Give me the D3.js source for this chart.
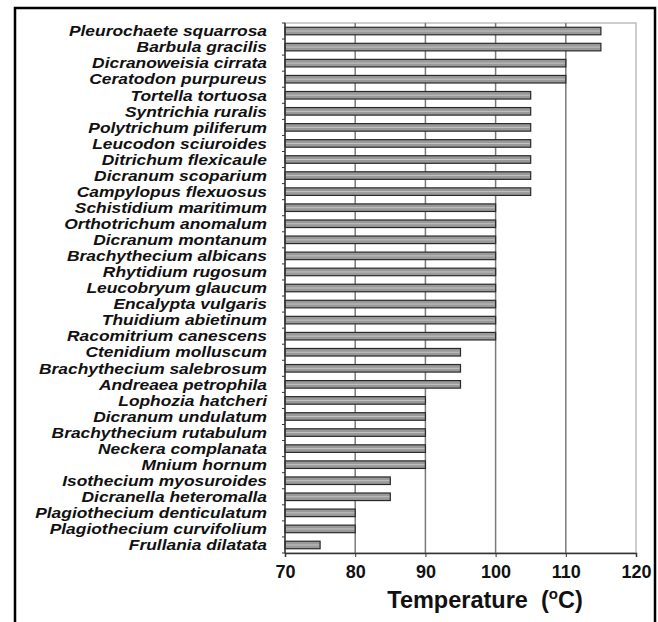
<!DOCTYPE html>
<html>
<head>
<meta charset="utf-8">
<script src="https://cdn.jsdelivr.net/npm/d3@7"></script>
<style>
  body { margin: 0; background: #fff; }
  text { font-family: Arial, "Liberation Sans", sans-serif; }
</style>
</head>
<body>
<script>
// species, top to bottom
var species = [
  "Pleurochaete squarrosa", "Barbula gracilis", "Dicranoweisia cirrata", "Ceratodon purpureus",
  "Tortella tortuosa", "Syntrichia ruralis", "Polytrichum piliferum", "Leucodon sciuroides",
  "Ditrichum flexicaule", "Dicranum scoparium", "Campylopus flexuosus", "Schistidium maritimum",
  "Orthotrichum anomalum", "Dicranum montanum", "Brachythecium albicans", "Rhytidium rugosum",
  "Leucobryum glaucum", "Encalypta vulgaris", "Thuidium abietinum", "Racomitrium canescens",
  "Ctenidium molluscum", "Brachythecium salebrosum", "Andreaea petrophila", "Lophozia hatcheri",
  "Dicranum undulatum", "Brachythecium rutabulum", "Neckera complanata", "Mnium hornum",
  "Isothecium myosuroides", "Dicranella heteromalla", "Plagiothecium denticulatum",
  "Plagiothecium curvifolium", "Frullania dilatata"
];
// temperature (oC)
var temps = [
  115, 115, 110, 110,
  105, 105, 105, 105,
  105, 105, 105, 100,
  100, 100, 100, 100,
  100, 100, 100, 100,
  95, 95, 95, 90,
  90, 90, 90, 90,
  85, 85, 80,
  80, 75
];
var xTicks = [70, 80, 90, 100, 110, 120];

var svgWidth = 658, svgHeight = 622;
var margin = {top: 23, right: 22, bottom: 69, left: 285};
var chartWidth = svgWidth - margin.left - margin.right;
var chartHeight = svgHeight - margin.top - margin.bottom;

var svg = d3.select("body").append("svg")
  .attr("width", svgWidth)
  .attr("height", svgHeight);

// outer frame
svg.append("rect")
  .attr("x", 15).attr("y", 8)
  .attr("width", 640).attr("height", 620)
  .attr("fill", "none").attr("stroke", "#000").attr("stroke-width", 2.5);

var chartGroup = svg.append("g")
  .attr("transform", `translate(${margin.left}, ${margin.top})`);

var x = d3.scaleLinear().domain([70, 120]).range([0, chartWidth]);
var y = d3.scaleBand().domain(species).range([0, chartHeight]).paddingInner(0).paddingOuter(0);

// plot border (top/right light)
chartGroup.append("rect")
  .attr("x", 0).attr("y", 0)
  .attr("width", chartWidth).attr("height", chartHeight)
  .attr("fill", "none").attr("stroke", "#bdbdbd").attr("stroke-width", 1.5);

// vertical gridlines
chartGroup.selectAll(".grid")
  .data(xTicks.slice(1, -1))
  .enter().append("line")
  .attr("x1", d => x(d)).attr("x2", d => x(d))
  .attr("y1", 0).attr("y2", chartHeight)
  .attr("stroke", "#7a7a7a").attr("stroke-width", 1.5);

// bars
var bh = y.bandwidth() * 0.47;
chartGroup.selectAll(".bar")
  .data(species)
  .enter().append("rect")
  .attr("x", 0)
  .attr("y", d => y(d) + (y.bandwidth() - bh) / 2)
  .attr("width", (d, i) => x(temps[i]))
  .attr("height", bh)
  .attr("fill", "#999")
  .attr("stroke", "#2a2a2a").attr("stroke-width", 1.2);

// light stripe inside each bar
chartGroup.selectAll(".stripe")
  .data(species)
  .enter().append("line")
  .attr("x1", 1)
  .attr("x2", (d, i) => x(temps[i]) - 1)
  .attr("y1", d => y(d) + y.bandwidth() / 2)
  .attr("y2", d => y(d) + y.bandwidth() / 2)
  .attr("stroke", "#c4c4c4").attr("stroke-width", 1);

// y axis: tick marks at band boundaries, labels
var yAxis = chartGroup.append("g");
yAxis.append("line")
  .attr("x1", 0).attr("x2", 0).attr("y1", 0).attr("y2", chartHeight)
  .attr("stroke", "#333").attr("stroke-width", 1.5);
yAxis.selectAll(".ytick")
  .data(d3.range(species.length + 1))
  .enter().append("line")
  .attr("x1", -3).attr("x2", 0)
  .attr("y1", d => d * y.step()).attr("y2", d => d * y.step())
  .attr("stroke", "#333");
// labels are tightly packed and wide in the original: smaller font, stretched sideways
yAxis.selectAll(".ylab")
  .data(species)
  .enter().append("text")
  .attr("transform", d => `translate(-18, ${y(d) + y.bandwidth() / 2}) scale(1.2, 1)`)
  .attr("dy", "0.36em")
  .attr("text-anchor", "end")
  .attr("font-size", "14.5px")
  .attr("font-weight", "bold")
  .attr("font-style", "italic")
  .attr("fill", "#111")
  .text(d => d);

// x axis
var bottomAxis = d3.axisBottom(x).tickValues(xTicks).tickSize(4).tickPadding(8);
var xAxis = chartGroup.append("g")
  .attr("transform", `translate(0, ${chartHeight})`)
  .call(bottomAxis);
xAxis.select(".domain").attr("stroke", "#333").attr("stroke-width", 1.5);
xAxis.selectAll(".tick line").attr("stroke", "#333");
xAxis.selectAll("text")
  .attr("font-size", "18px")
  .attr("font-weight", "bold")
  .attr("font-family", "Arial, 'Liberation Sans', sans-serif")
  .attr("fill", "#111");

// axis title
var title = svg.append("text")
  .attr("x", 485)
  .attr("y", 608)
  .attr("text-anchor", "middle")
  .attr("font-size", "23.5px")
  .attr("font-weight", "bold")
  .attr("fill", "#111");
title.append("tspan").text("Temperature\u00a0\u00a0(");
title.append("tspan").attr("font-size", "15px").attr("dy", "-9").text("o");
title.append("tspan").attr("dy", "9").text("C)");
</script>
</body>
</html>
